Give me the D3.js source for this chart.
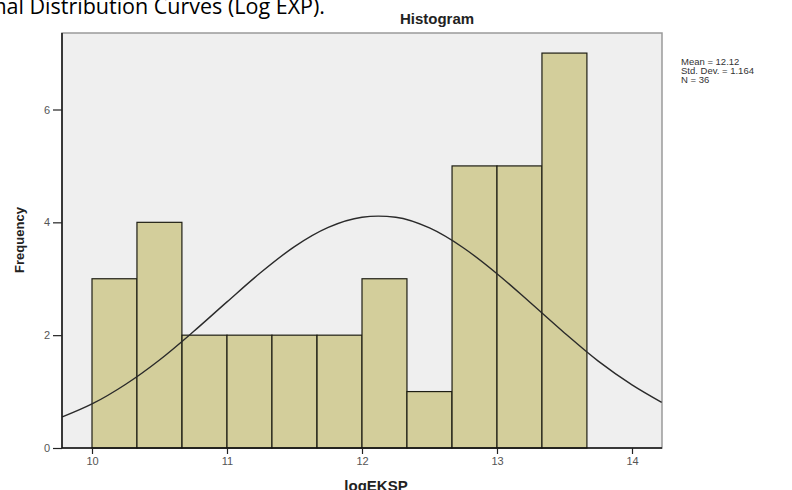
<!DOCTYPE html>
<html>
<head>
<meta charset="utf-8">
<script src="https://cdn.jsdelivr.net/npm/d3@7"></script>
<style>
  body { margin: 0; background: #fff; }
  svg { display: block; }
</style>
</head>
<body>
<div id="chart"></div>
<script>
// Histogram bins (lower edge of each bin) and their counts.
var binStarts = [10.00, 10.333, 10.667, 11.00, 11.333, 11.667, 12.00, 12.333, 12.667, 13.00, 13.333];
var binWidth = 0.333;
var counts = [3, 4, 2, 2, 2, 2, 3, 1, 5, 5, 7];

// Normal curve.
var curveX = [9.78, 10.00, 10.25, 10.50, 10.75, 11.00, 11.25, 11.50, 11.75, 12.00, 12.12, 12.25, 12.50, 12.75, 13.00, 13.25, 13.50, 13.75, 14.00, 14.22];
var curveY = [0.55, 0.78, 1.13, 1.56, 2.06, 2.59, 3.11, 3.57, 3.91, 4.09, 4.11, 4.09, 3.90, 3.55, 3.09, 2.57, 2.04, 1.54, 1.12, 0.81];

// Tick labels.
var xTicks = [10, 11, 12, 13, 14];
var yTicks = [0, 2, 4, 6];

// Stats shown to the right of the plot.
var statLines = ["Mean = 12.12", "Std. Dev. = 1.164", "N = 36"];

var width = 792, height = 490;

var svg = d3.select("#chart")
  .append("svg")
    .attr("width", width)
    .attr("height", height);

// Scales: 10 -> 92px, 14 -> 632px; 0 -> 448px, 6 -> 109.5px.
var x = d3.scaleLinear().domain([10, 14]).range([92, 632]);
var y = d3.scaleLinear().domain([0, 6]).range([448, 109.5]);

// Plot frame edges.
var plotLeft = 62, plotRight = 662, plotTop = 33, plotBottom = 448;

// Caption text cut off at the top of the picture.
svg.append("text")
  .attr("x", 325)
  .attr("y", 14)
  .attr("text-anchor", "end")
  .attr("font-family", "'Open Sans', sans-serif")
  .attr("font-size", "21.5px")
  .attr("fill", "#000")
  .text("Normal Distribution Curves (Log EXP).");

// Title.
svg.append("text")
  .attr("x", 437)
  .attr("y", 24)
  .attr("text-anchor", "middle")
  .attr("font-family", "'Liberation Sans', Arial, sans-serif")
  .attr("font-weight", "bold")
  .attr("font-size", "15px")
  .attr("fill", "#222")
  .text("Histogram");

// Plot background.
svg.append("rect")
  .attr("x", plotLeft)
  .attr("y", plotTop)
  .attr("width", plotRight - plotLeft)
  .attr("height", plotBottom - plotTop)
  .attr("fill", "#efefef")
  .attr("stroke", "#9a9a9a")
  .attr("stroke-width", 1.5);

// Bars.
svg.selectAll("rect.bar")
  .data(counts)
  .enter()
  .append("rect")
    .attr("class", "bar")
    .attr("x", function(d, i){ return x(binStarts[i]); })
    .attr("width", function(d, i){ return x(binStarts[i] + binWidth) - x(binStarts[i]); })
    .attr("y", function(d){ return y(d); })
    .attr("height", function(d){ return y(0) - y(d); })
    .attr("fill", "#d3ce9b")
    .attr("stroke", "#1e1e14")
    .attr("stroke-width", 1.2);

// Normal curve.
var line = d3.line()
  .x(function(d, i){ return x(curveX[i]); })
  .y(function(d){ return y(d); })
  .curve(d3.curveMonotoneX);

svg.append("path")
  .datum(curveY)
  .attr("d", line)
  .attr("fill", "none")
  .attr("stroke", "#2a2a2a")
  .attr("stroke-width", 1.4);

// Y axis.
var yAxis = d3.axisLeft(y).tickValues(yTicks).tickSize(9).tickPadding(3).tickFormat(d3.format("d"));
var gy = svg.append("g")
  .attr("transform", "translate(" + plotLeft + ",0)")
  .call(yAxis);
gy.select(".domain").attr("d", "M0," + plotTop + "V" + plotBottom).attr("stroke", "#111").attr("stroke-width", 1.5);

// X axis.
var xAxis = d3.axisBottom(x).tickValues(xTicks).tickSize(6).tickPadding(3).tickFormat(d3.format("d"));
var gx = svg.append("g")
  .attr("transform", "translate(0," + plotBottom + ")")
  .call(xAxis);
gx.select(".domain").attr("d", "M" + plotLeft + ",0H" + plotRight).attr("stroke", "#111").attr("stroke-width", 1.5);

[gx, gy].forEach(function(g){
  g.selectAll(".tick line").attr("stroke", "#222").attr("stroke-width", 1.2);
  g.selectAll(".tick text")
    .attr("font-family", "'Liberation Sans', Arial, sans-serif")
    .attr("font-size", "11px")
    .attr("fill", "#555");
});

// Axis titles.
svg.append("text")
  .attr("transform", "translate(24,240) rotate(-90)")
  .attr("text-anchor", "middle")
  .attr("font-family", "'Liberation Sans', Arial, sans-serif")
  .attr("font-weight", "bold")
  .attr("font-size", "13px")
  .attr("fill", "#222")
  .text("Frequency");

svg.append("text")
  .attr("x", 376)
  .attr("y", 491)
  .attr("text-anchor", "middle")
  .attr("font-family", "'Liberation Sans', Arial, sans-serif")
  .attr("font-weight", "bold")
  .attr("font-size", "15px")
  .attr("fill", "#222")
  .text("logEKSP");

// Stats block.
svg.append("g")
  .selectAll("text")
  .data(statLines)
  .enter()
  .append("text")
    .attr("x", 681)
    .attr("y", function(d, i){ return 65 + i * 9; })
    .attr("font-family", "'Liberation Sans', Arial, sans-serif")
    .attr("font-size", "9.5px")
    .attr("fill", "#333")
    .text(function(d){ return d; });
</script>
</body>
</html>
